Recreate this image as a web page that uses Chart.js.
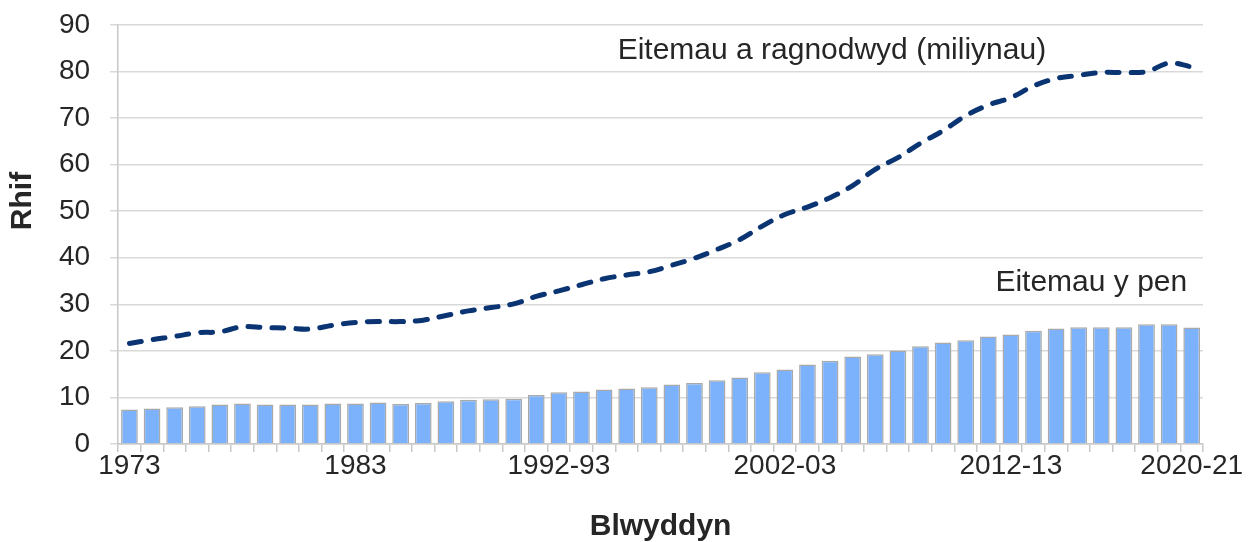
<!DOCTYPE html>
<html>
<head>
<meta charset="utf-8">
<script src="https://cdn.jsdelivr.net/npm/chart.js@4/dist/chart.umd.min.js"></script>
<style>
  html, body { margin: 0; padding: 0; background: #fff; }
  #wrap { width: 1255px; height: 542px; }
</style>
</head>
<body>
<div id="wrap"><canvas id="myChart" width="1255" height="542"></canvas></div>
<script>
const years = [
    '1973', '1974', '1975', '1976', '1977', '1978', '1979', '1980', '1981', '1982',
    '1983', '1984', '1985', '1986', '1987', '1988', '1989', '1990', '1991',
    '1992-93', '1993-94', '1994-95', '1995-96', '1996-97', '1997-98', '1998-99', '1999-00',
    '2000-01', '2001-02', '2002-03', '2003-04', '2004-05', '2005-06', '2006-07', '2007-08',
    '2008-09', '2009-10', '2010-11', '2011-12', '2012-13', '2013-14', '2014-15', '2015-16',
    '2016-17', '2017-18', '2018-19', '2019-20', '2020-21'
];
const shownLabels = ['1973', '1983', '1992-93', '2002-03', '2012-13', '2020-21'];

// Eitemau a ragnodwyd (miliynau)
const itemsPrescribed = [
    21.6, 22.4, 23.1, 23.9, 24.1, 25.2, 25.0, 24.9, 24.7, 25.5,
    26.1, 26.3, 26.3, 26.6, 27.6, 28.6, 29.3, 30.1, 31.7,
    32.9, 34.2, 35.5, 36.3, 37.0, 38.4, 39.9, 41.8,
    43.9, 46.8, 49.3, 50.9, 52.9, 55.5, 59.0, 61.5,
    64.6, 67.3, 70.5, 72.8, 74.4, 76.9, 78.5, 79.2,
    79.8, 79.8, 80.0, 81.8, 81.0
];

// Eitemau y pen
const itemsPerHead = [
    7.4, 7.6, 7.9, 8.1, 8.5, 8.7, 8.5, 8.5, 8.5, 8.7,
    8.7, 8.9, 8.6, 8.8, 9.2, 9.5, 9.6, 9.7, 10.5,
    11.1, 11.3, 11.7, 11.9, 12.2, 12.8, 13.1, 13.7,
    14.3, 15.4, 16.0, 17.1, 17.9, 18.8, 19.3, 20.1,
    21.0, 21.8, 22.3, 23.1, 23.5, 24.3, 24.8, 25.1,
    25.1, 25.1, 25.7, 25.7, 25.0
];

const yTicks = [0, 10, 20, 30, 40, 50, 60, 70, 80, 90];

const textFont = 'Liberation Sans, Arial, sans-serif';
const textColor = '#262626';

// labels drawn inside the chart, and the y axis title
const chartText = {
    id: 'chartText',
    afterDatasetsDraw(chart) {
        const ctx = chart.ctx;
        const x = chart.scales.x;
        const y = chart.scales.y;
        ctx.save();
        ctx.fillStyle = textColor;
        ctx.font = '30px ' + textFont;
        ctx.textBaseline = 'middle';
        ctx.textAlign = 'left';
        ctx.fillText('Eitemau a ragnodwyd (miliynau)', x.getPixelForValue(21.6), y.getPixelForValue(84.5));
        ctx.textAlign = 'right';
        ctx.fillText('Eitemau y pen', x.getPixelForValue(46.8), y.getPixelForValue(34.6));

        ctx.font = 'bold 30px ' + textFont;
        ctx.textAlign = 'center';
        ctx.translate(23, y.getPixelForValue(52.2));
        ctx.rotate(-Math.PI / 2);
        ctx.fillText('Rhif', 0, 0);
        ctx.restore();
    }
};

const ctx = document.getElementById('myChart');
const myChart = new Chart(ctx, {
    type: 'bar',
    data: {
        labels: years,
        datasets: [{
            type: 'line',
            label: 'Eitemau a ragnodwyd (miliynau)',
            data: itemsPrescribed,
            borderColor: '#0b3473',
            borderWidth: 5,
            borderDash: [12, 12],
            borderCapStyle: 'round',
            tension: 0.4,
            pointRadius: 0,
            fill: false,
            order: 0
        }, {
            label: 'Eitemau y pen',
            data: itemsPerHead,
            backgroundColor: '#7cb2fb',
            borderColor: '#a9a9a9',
            borderWidth: 1.5,
            categoryPercentage: 1,
            barPercentage: 0.74,
            order: 1
        }]
    },
    options: {
        responsive: false,
        animation: false,
        devicePixelRatio: 1,
        layout: {
            padding: { left: 39, top: 25, right: 52, bottom: 0 }
        },
        plugins: {
            legend: { display: false },
            tooltip: { enabled: false }
        },
        scales: {
            x: {
                grid: {
                    drawOnChartArea: false,
                    color: '#c8c8c8',
                    lineWidth: 1.5,
                    tickLength: 8
                },
                border: { color: '#c8c8c8', width: 1.5 },
                ticks: {
                    autoSkip: false,
                    maxRotation: 0,
                    padding: 0,
                    color: textColor,
                    font: { family: textFont, size: 28, lineHeight: 1 },
                    callback: function(value, index) {
                        const label = years[index];
                        return shownLabels.includes(label) ? label : '';
                    }
                },
                title: {
                    display: true,
                    text: 'Blwyddyn',
                    color: textColor,
                    font: { family: textFont, size: 30, weight: 'bold', lineHeight: 1 },
                    padding: { top: 32, bottom: 0 }
                }
            },
            y: {
                min: 0,
                max: 90,
                afterBuildTicks: function(axis) {
                    axis.ticks = yTicks.map(v => ({ value: v }));
                },
                afterFit: function(axis) {
                    axis.paddingTop = 0;
                    axis.paddingBottom = 0;
                },
                grid: {
                    color: '#d9d9d9',
                    lineWidth: 1.5,
                    tickLength: 8
                },
                border: { color: '#c8c8c8', width: 1.5 },
                ticks: {
                    padding: 20,
                    color: textColor,
                    font: { family: textFont, size: 28 }
                }
            }
        }
    },
    plugins: [chartText]
});
</script>
</body>
</html>
